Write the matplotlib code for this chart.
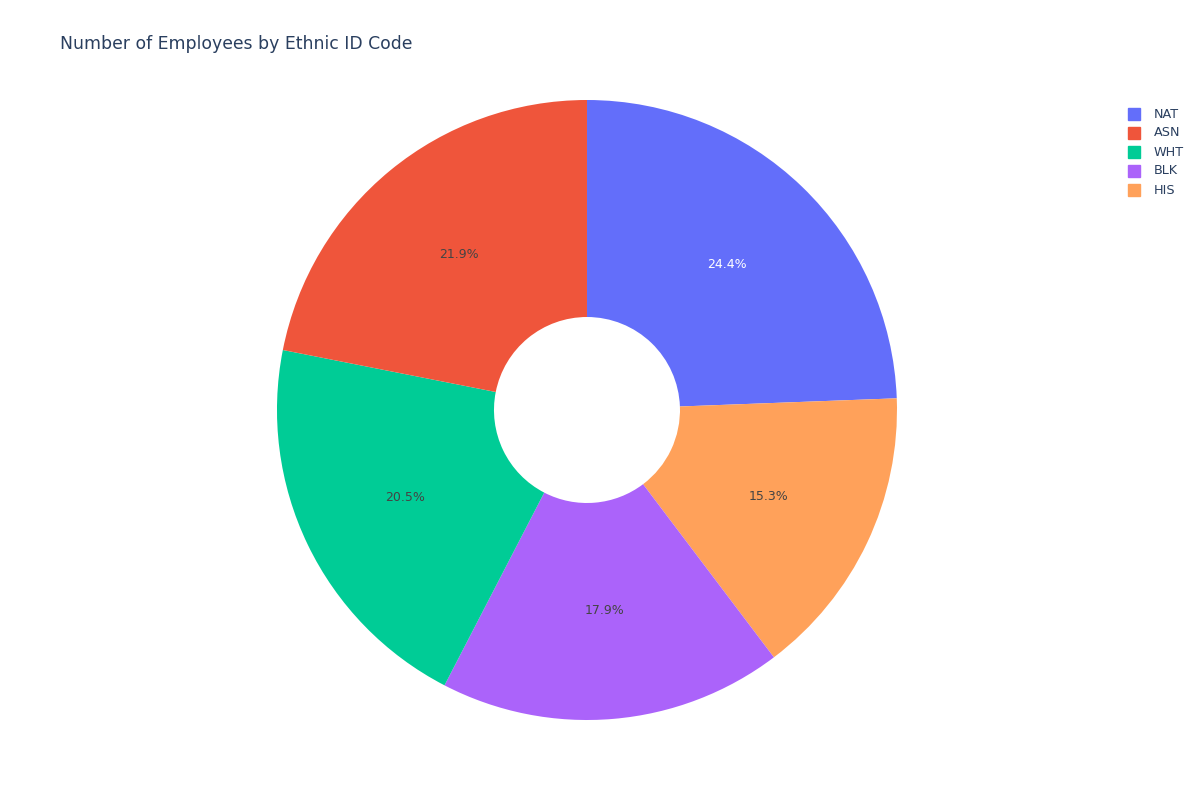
import matplotlib
matplotlib.use("Agg")
import matplotlib.pyplot as plt
from matplotlib.patches import Rectangle

# Data (clockwise from top, as drawn)
labels = ["NAT", "HIS", "BLK", "WHT", "ASN"]
values = [24.4, 15.3, 17.9, 20.5, 21.9]
colors = ["#636efa", "#FFA15A", "#ab63fa", "#00cc96", "#EF553B"]
text_colors = ["white", "#444444", "#444444", "#444444", "#444444"]
legend_order = ["NAT", "ASN", "WHT", "BLK", "HIS"]
title = "Number of Employees by Ethnic ID Code"

fig = plt.figure(figsize=(12, 8), dpi=100)
ax = fig.add_axes([0.2308, 0.1, 0.5167, 0.775])
wedges, texts, autotexts = ax.pie(
    values, colors=colors, startangle=90, counterclock=False,
    autopct="%1.1f%%", pctdistance=0.65, radius=1.0,
    wedgeprops=dict(width=0.7, linewidth=0),
    textprops=dict(fontsize=9, family="DejaVu Sans"))
for t, c in zip(autotexts, text_colors):
    t.set_color(c)
ax.set_aspect("equal")
ax.set_xlim(-1, 1)
ax.set_ylim(-1, 1)

fig.text(60 / 1200, 1 - 44 / 800, title, fontsize=12.4, color="#2a3f5f",
         ha="left", va="center")

cmap = dict(zip(labels, colors))
for i, lab in enumerate(legend_order):
    y = 114 + 19 * i
    fig.patches.append(Rectangle(((1128) / 1200, 1 - (y + 6) / 800), 12 / 1200, 12 / 800,
                                 transform=fig.transFigure, color=cmap[lab]))
    fig.text(1154 / 1200, 1 - y / 800, lab, fontsize=9.2, color="#2a3f5f",
             ha="left", va="center")

fig.savefig("out.png", dpi=100)
